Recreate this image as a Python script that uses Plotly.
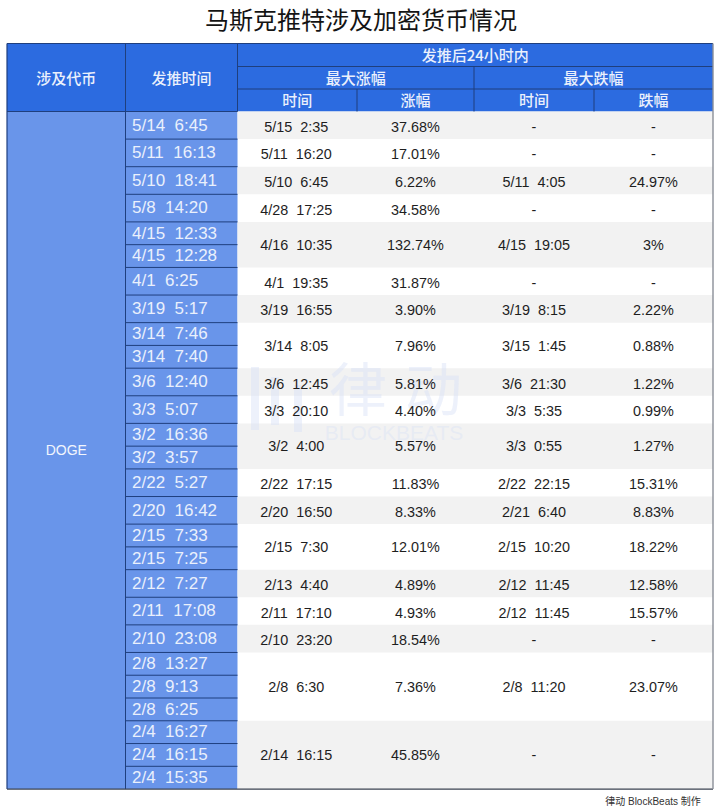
import plotly.graph_objects as go

title = "马斯克推特涉及加密货币情况"
footer = "律动 BlockBeats 制作"
coin = "DOGE"

# one entry per merged group of tweets
tweet_times = [
    ["5/14  6:45"], ["5/11  16:13"], ["5/10  18:41"], ["5/8  14:20"],
    ["4/15  12:33", "4/15  12:28"], ["4/1  6:25"], ["3/19  5:17"],
    ["3/14  7:46", "3/14  7:40"], ["3/6  12:40"], ["3/3  5:07"],
    ["3/2  16:36", "3/2  3:57"], ["2/22  5:27"], ["2/20  16:42"],
    ["2/15  7:33", "2/15  7:25"], ["2/12  7:27"], ["2/11  17:08"],
    ["2/10  23:08"], ["2/8  13:27", "2/8  9:13", "2/8  6:25"],
    ["2/4  16:27", "2/4  16:15", "2/4  15:35"],
]
rise_times = ["5/15  2:35", "5/11  16:20", "5/10  6:45", "4/28  17:25", "4/16  10:35", "4/1  19:35",
              "3/19  16:55", "3/14  8:05", "3/6  12:45", "3/3  20:10", "3/2  4:00", "2/22  17:15",
              "2/20  16:50", "2/15  7:30", "2/13  4:40", "2/11  17:10", "2/10  23:20", "2/8  6:30",
              "2/14  16:15"]
rise_pct = ["37.68%", "17.01%", "6.22%", "34.58%", "132.74%", "31.87%", "3.90%", "7.96%", "5.81%", "4.40%",
            "5.57%", "11.83%", "8.33%", "12.01%", "4.89%", "4.93%", "18.54%", "7.36%", "45.85%"]
fall_times = ["-", "-", "5/11  4:05", "-", "4/15  19:05", "-", "3/19  8:15", "3/15  1:45", "3/6  21:30",
              "3/3  5:35", "3/3  0:55", "2/22  22:15", "2/21  6:40", "2/15  10:20", "2/12  11:45",
              "2/12  11:45", "-", "2/8  11:20", "-"]
fall_pct = ["-", "-", "24.97%", "-", "3%", "-", "2.22%", "0.88%", "1.22%", "0.99%", "1.27%", "15.31%",
            "8.83%", "18.22%", "12.58%", "15.57%", "-", "23.07%", "-"]

# layout of the table, in pixels of the page
col_edges = [7, 125.5, 237.5, 357, 474, 594, 713]
head_edges = [43.5, 66.5, 89, 111.5]
single_row = 27.6
multi_row = 22.77
tweet_left = 132
text_drop = 2  # fonts sit a little high in their cells

HEAD_BLUE = "#2C6BE0"
BODY_BLUE = "#6995EA"
LINE = "#1F3F7E"
ZEBRA = "#F2F2F2"
MARK = "rgba(214,224,246,0.45)"
CJK = "Noto Sans CJK SC"
LATIN = "Liberation Sans, Noto Sans CJK SC"


def nbsp(s):
    return s.replace(" ", "\u00a0")


def centre(a, b):
    return (a + b) / 2


shapes = []


def rect(x0, y0, x1, y1, fill):
    shapes.append(dict(type="rect", x0=x0, y0=y0, x1=x1, y1=y1, fillcolor=fill, layer="below",
                       line=dict(color=fill, width=0)))


def seg(x0, y0, x1, y1, color=LINE, width=1):
    shapes.append(dict(type="line", x0=x0, y0=y0, x1=x1, y1=y1, layer="below",
                       line=dict(color=color, width=width)))


fig = go.Figure()


def add_text(xs, ys, texts, size, color, family=LATIN, weight=None, pos="middle center"):
    fig.add_trace(go.Scatter(x=xs, y=[y + text_drop for y in ys], text=texts, mode="text", textposition=pos,
                             textfont=dict(size=size, color=color, family=family, weight=weight),
                             hoverinfo="skip", showlegend=False, cliponaxis=False))


# group edges come from how many tweets each group holds
group_edges = [head_edges[-1]]
for group in tweet_times:
    h = single_row if len(group) == 1 else multi_row * len(group)
    group_edges.append(group_edges[-1] + h)
table_bottom = group_edges[-1]

# backgrounds
rect(col_edges[0], head_edges[0], col_edges[-1], head_edges[-1], HEAD_BLUE)
rect(col_edges[0], head_edges[-1], col_edges[2], table_bottom, BODY_BLUE)
for i in range(len(tweet_times)):
    if i % 2 == 0:
        rect(col_edges[2], group_edges[i], col_edges[-1], group_edges[i + 1], ZEBRA)

# faint logo bars of the watermark
for bx, by0, by1 in [(255, 367, 430), (275, 377, 425), (298, 385, 432)]:
    seg(bx, by0, bx, by1, color=MARK, width=8)

# header rules
seg(col_edges[2], head_edges[1], col_edges[-1], head_edges[1])
seg(col_edges[2], head_edges[2], col_edges[-1], head_edges[2])
seg(col_edges[0], head_edges[3], col_edges[2], head_edges[3])
seg(col_edges[4], head_edges[1], col_edges[4], head_edges[3])
seg(col_edges[3], head_edges[2], col_edges[3], head_edges[3])
seg(col_edges[5], head_edges[2], col_edges[5], head_edges[3])
seg(col_edges[1], head_edges[0], col_edges[1], table_bottom)
seg(col_edges[2], head_edges[0], col_edges[2], head_edges[-1])

# tweet column rules, one per tweet
tweet_y, tweet_txt = [], []
for i, group in enumerate(tweet_times):
    h = (group_edges[i + 1] - group_edges[i]) / len(group)
    for j, t in enumerate(group):
        top = group_edges[i] + j * h
        tweet_y.append(top + h / 2)
        tweet_txt.append(nbsp(t))
        if top + h < table_bottom - 1:
            seg(col_edges[1], top + h, col_edges[2], top + h)

# outer frame
seg(col_edges[0], head_edges[0], col_edges[-1], head_edges[0], width=1.2)
seg(col_edges[0], head_edges[0], col_edges[0], table_bottom, width=1.2)
seg(col_edges[0], table_bottom, col_edges[-1], table_bottom, color="#3A4250", width=1.2)
seg(col_edges[-1], head_edges[0], col_edges[-1], table_bottom, color="#8A8F98", width=1.4)

# watermark text
add_text([358, 433], [394, 394], ["律", "动"], 58, MARK, CJK)
add_text([394], [433], ["BLOCKBEATS"], 21, "rgba(214,224,246,0.4)", "Liberation Sans")

# title and footer
add_text([361], [21], [title], 24, "#141414", CJK)
add_text([653], [800], [footer], 10, "#333333", LATIN)

# headers
mid = [centre(col_edges[i], col_edges[i + 1]) for i in range(6)]
head_mid_y = [centre(head_edges[i], head_edges[i + 1]) for i in range(3)]
add_text([mid[0], mid[1]], [centre(head_edges[0], head_edges[3]) + 1] * 2, ["涉及代币", "发推时间"], 15, "#EAF0FC", CJK, weight=500)
add_text([centre(col_edges[2], col_edges[6])], [head_mid_y[0]], ["发推后24小时内"], 15, "#EAF0FC", CJK, weight=500)
add_text([centre(col_edges[2], col_edges[4]), centre(col_edges[4], col_edges[6])], [head_mid_y[1]] * 2,
         ["最大涨幅", "最大跌幅"], 15, "#EAF0FC", CJK, weight=500)
add_text(mid[2:], [head_mid_y[2]] * 4, ["时间", "涨幅", "时间", "跌幅"], 15, "#EAF0FC", CJK, weight=500)

# body
add_text([mid[0]], [centre(head_edges[3], table_bottom) - 1], [coin], 14, "#F2F5FD")
add_text([tweet_left] * len(tweet_txt), [y - 1 for y in tweet_y], tweet_txt, 17, "#EAF0FC", pos="middle right")
# single rows sit a touch lower than the tall merged ones
group_mid = [centre(group_edges[i], group_edges[i + 1]) + (1 if len(g) == 1 else -0.5)
             for i, g in enumerate(tweet_times)]
for col, values in zip([mid[2] - 1, mid[3], mid[4], mid[5]], [rise_times, rise_pct, fall_times, fall_pct]):
    add_text([col] * len(values), group_mid, [nbsp(v) for v in values], 14.4, "#1E1E1E")

fig.update_layout(
    width=720, height=810,
    margin=dict(l=0, r=0, t=0, b=0),
    paper_bgcolor="white", plot_bgcolor="white",
    shapes=shapes,
    xaxis=dict(range=[0, 720], visible=False, fixedrange=True),
    yaxis=dict(range=[810, 0], visible=False, fixedrange=True),
)

fig.write_html("out.html", config=dict(displayModeBar=False), post_script="document.body.style.margin='0';")
